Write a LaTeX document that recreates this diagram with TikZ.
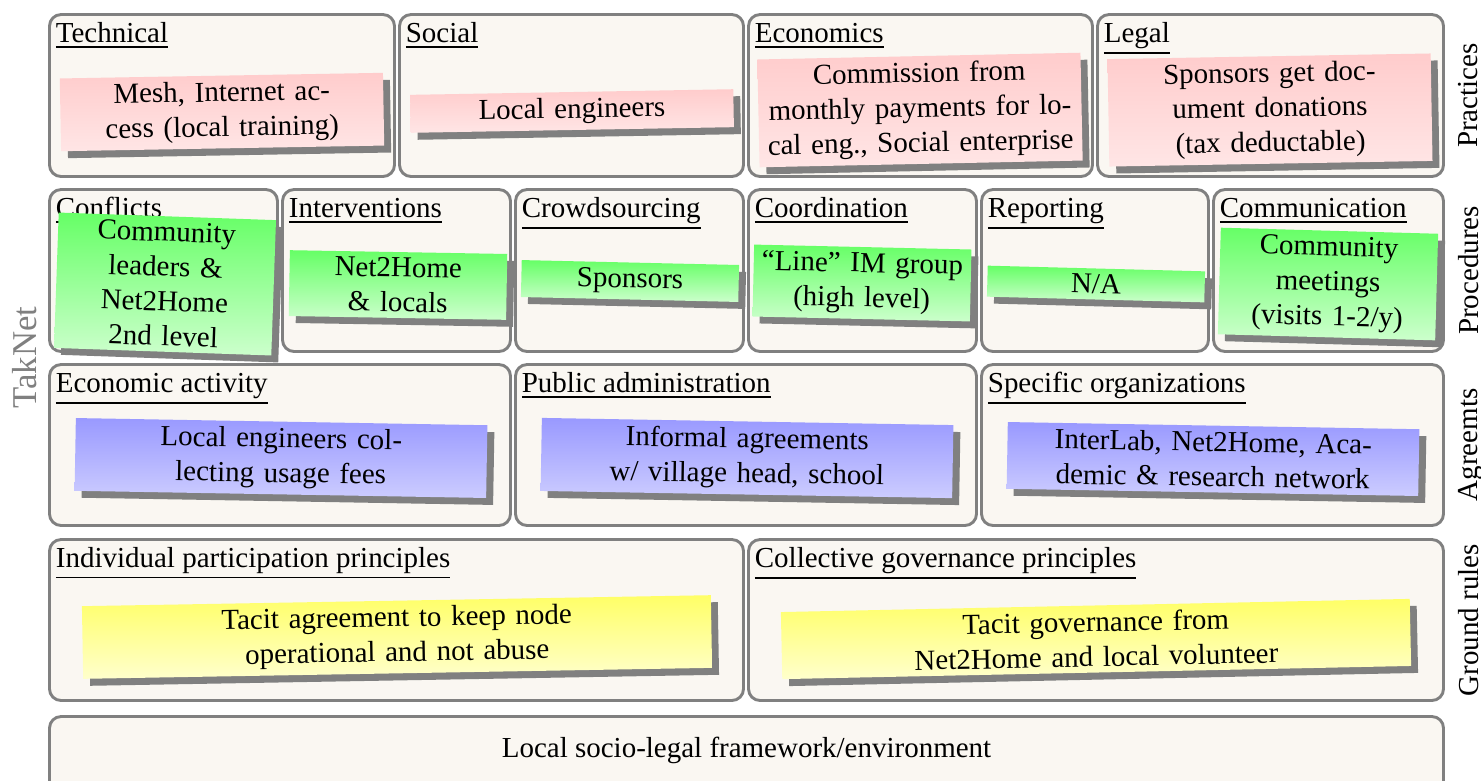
\documentclass[tikz,border=0pt]{standalone}
\usepackage{fontspec}
\setmainfont{Liberation Serif}
\usepackage{xcolor}
\usepackage{tikz}
\usetikzlibrary{fit}
\usetikzlibrary{calc}
\usetikzlibrary{shadows}
\usetikzlibrary{positioning}
\definecolor{layerfill}{RGB}{250,247,242}
\definecolor{layerline}{RGB}{128,128,128}
\tikzset{%
  layerbox/.style={rectangle,rounded corners=4pt,fill=layerfill,draw=layerline,line width=1pt,inner sep=0pt}
}
\tikzset{%
  boxtitle/.style={inner sep=0pt,anchor=base west}
}
\tikzset{%
  sticky/.style={rectangle,align=center,inner xsep=2pt,inner ysep=2pt,drop shadow={shadow xshift=2.4pt,shadow yshift=-2.4pt,fill=layerline,opacity=1}},
  pinknote/.style={sticky,top color=red!20,bottom color=red!10,text width=107.5pt},
  greennote/.style={sticky,top color=green!60,bottom color=green!20,text width=71pt},
  bluenote/.style={sticky,top color=blue!40,bottom color=blue!20,text width=138pt},
  yellownote/.style={sticky,top color=yellow!60,bottom color=yellow!20,text width=213pt}
}
\tikzset{%
  rowlabel/.style={rotate=90,anchor=north}
}
\newcommand\casetext{layerline}

\begin{document}
\begin{tikzpicture}[x=0.345pt,y=-0.345pt,node distance=1mm]
            \useasboundingbox (0,0) rectangle (1481,780);
            % practices
            \node[layerbox,fit={(49.5,14.5)(394.5,176.5)}](tech){};
            \node[layerbox,fit={(399.5,14.5)(743.5,176.5)}](social){};
            \node[layerbox,fit={(748.5,14.5)(1092.5,176.5)}](econ){};
            \node[layerbox,fit={(1097.5,14.5)(1443.5,176.5)}](legal){};
            \node[boxtitle] (techtitle) at ([xshift=2.5pt,yshift=-10.2pt]tech.north west) {\underline{Technical}};
            \node[boxtitle] (socialtitle) at ([xshift=2.5pt,yshift=-10.2pt]social.north west) {\underline{Social}};
            \node[boxtitle] (econtitle) at ([xshift=2.5pt,yshift=-10.2pt]econ.north west) {\underline{Economics}};
            \node[boxtitle] (legaltitle) at ([xshift=2.5pt,yshift=-10.2pt]legal.north west) {\underline{Legal}};
            \node[pinknote,rotate=1] (technote) at (222,112) {Mesh, Internet ac-\\cess (local training)};
            \node[pinknote,rotate=1] (socialnote) at (572,111) {Local engineers};
            \node[pinknote,rotate=1.2] (econnote) at (920,110) {Commission from\\monthly payments for lo-\\cal eng., Social enterprise};
            \node[pinknote,rotate=1] (legalnote) at (1270,110) {Sponsors get doc-\\ument donations\\(tax deductable)};

            % procedures
            \node[layerbox,fit={(49.5,189.5)(277.5,351.5)}](confl){};
            \node[layerbox,fit={(282.5,189.5)(510.5,351.5)}](interv){};
            \node[layerbox,fit={(515.5,189.5)(743.5,351.5)}](crowd){};
            \node[layerbox,fit={(748.5,189.5)(976.5,351.5)}](coord){};
            \node[layerbox,fit={(981.5,189.5)(1208.5,351.5)}](report){};
            \node[layerbox,fit={(1213.5,189.5)(1443.5,351.5)}](comm){};
            \node[boxtitle] (confltitle) at ([xshift=2.5pt,yshift=-10.2pt]confl.north west) {\underline{Conflicts}};
            \node[boxtitle] (intervtitle) at ([xshift=2.5pt,yshift=-10.2pt]interv.north west) {\underline{Interventions}};
            \node[boxtitle] (crowdtitle) at ([xshift=2.5pt,yshift=-10.2pt]crowd.north west) {\underline{Crowdsourcing}};
            \node[boxtitle] (coordtitle) at ([xshift=2.5pt,yshift=-10.2pt]coord.north west) {\underline{Coordination}};
            \node[boxtitle] (reporttitle) at ([xshift=2.5pt,yshift=-10.2pt]report.north west) {\underline{Reporting}};
            \node[boxtitle] (commtitle) at ([xshift=2.5pt,yshift=-10.2pt]comm.north west) {\underline{Communication}};
            \node[greennote,rotate=-2] (conflnote) at (165,284) {Community\\leaders \&\\Net2Home\\2nd level};
            \node[greennote,rotate=-1] (intervnote) at (398,285) {Net2Home\\\& locals};
            \node[greennote,rotate=-1.3] (crowdnote) at (630,281) {Sponsors};
            \node[greennote,rotate=-1.3] (coordnote) at (862,283) {``Line'' IM group\\(high level)};
            \node[greennote,rotate=-1.5] (reportnote) at (1096,284) {N/A};
            \node[greennote,rotate=-1.6] (commnote) at (1328,284) {Community\\meetings\\(visits 1-2/y)};

            % agreements
            \node[layerbox,fit={(49.5,364.5)(510.5,525.5)}](ecact){};
            \node[layerbox,fit={(515.5,364.5)(976.5,525.5)}](pubadm){};
            \node[layerbox,fit={(981.5,364.5)(1443.5,525.5)}](specorg){};
            \node[boxtitle] (ecacttitle) at ([xshift=2.5pt,yshift=-10.2pt]ecact.north west) {\underline{Economic activity}};
            \node[boxtitle] (pubadmtitle) at ([xshift=2.5pt,yshift=-10.2pt]pubadm.north west) {\underline{Public administration}};
            \node[boxtitle] (specorgtitle) at ([xshift=2.5pt,yshift=-10.2pt]specorg.north west) {\underline{Specific organizations}};
            \node[bluenote,rotate=-1] (ecactnote) at (281,458) {Local engineers col-\\lecting usage fees};
            \node[bluenote,rotate=-1] (pubadmnote) at (747,458) {Informal agreements\\w/ village head, school};
            \node[bluenote,rotate=-1] (specorgnote) at (1213,459) {InterLab, Net2Home, Aca-\\demic \& research network};

            % ground rules
            \node[layerbox,fit={(49.5,539.5)(743.5,700.5)}](indiv){};
            \node[layerbox,fit={(748.5,539.5)(1443.5,700.5)}](collect){};
            \node[boxtitle] (indivtitle) at ([xshift=2.5pt,yshift=-10.2pt]indiv.north west) {\underline{Individual participation principles}};
            \node[boxtitle] (collecttitle) at ([xshift=2.5pt,yshift=-10.2pt]collect.north west) {\underline{Collective governance principles}};
            \node[yellownote,rotate=1] (indivnote) at (397,637) {Tacit agreement to keep node\\operational and not abuse};
            \node[yellownote,rotate=1.2] (collectnote) at (1096,639) {Tacit governance from\\Net2Home and local volunteer};

            % framework
            \node[layerbox,fit={(49.5,716.5)(1443.5,812)}](frame){};
            \node[below=4.2pt of frame.north](framelabel){Local socio-legal framework/environment};

            % side labels
            \node[rowlabel] (practlabel) at ([xshift=1pt]legal.east) {Practices};
            \node[rowlabel] (proclabel) at ([xshift=1pt]comm.east) {Procedures};
            \node[rowlabel] (agreelabel) at ([xshift=1pt]specorg.east) {Agreemts};
            \node[rowlabel] (rulelabel) at ([xshift=1pt]collect.east) {Ground rules};
            \node[rotate=90,anchor=south,text=\casetext,font=\large] (caselabel) at ($(tech.north west)!0.5!(indiv.south west)+(-0.5pt,0)$) {TakNet};
        \end{tikzpicture}
\end{document}
